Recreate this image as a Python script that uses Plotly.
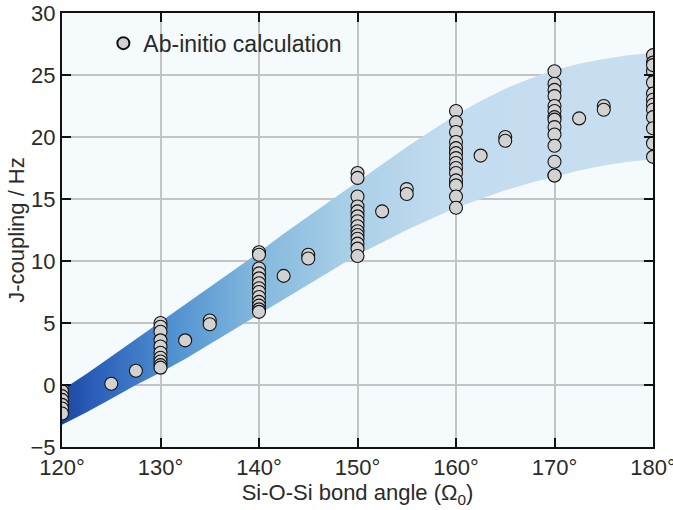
import plotly.graph_objects as go

# Band (range of J-coupling) edges
band_x = [120, 122.5, 125, 127.5, 130, 132.5, 135, 137.5, 140, 142.5, 145, 147.5, 150,
          152.5, 155, 157.5, 160, 162.5, 165, 167.5, 170, 172.5, 175, 177.5, 180]
band_lower = [-3.2, -2.2, -1.1, 0.0, 1.0, 2.1, 3.3, 4.5, 5.7, 6.9, 8.1, 9.3, 10.5,
              11.5, 12.5, 13.4, 14.3, 15.0, 15.7, 16.3, 16.8, 17.3, 17.7, 18.0, 18.2]
band_upper = [-0.4, 0.9, 2.3, 3.7, 5.1, 6.5, 7.9, 9.3, 10.7, 12.2, 13.6, 15.0, 16.4,
              17.8, 19.2, 20.5, 21.8, 22.9, 23.9, 24.7, 25.4, 25.9, 26.3, 26.6, 26.8]

# Ab-initio calculation points
calc_x = ([120] * 6 + [125, 127.5] + [130] * 10 + [132.5, 135, 135]
          + [140] * 13 + [142.5, 145, 145]
          + [150] * 14 + [152.5, 155, 155]
          + [160] * 14 + [162.5, 165, 165]
          + [170] * 14 + [172.5, 175, 175]
          + [180] * 13)
calc_y = ([-0.5, -0.9, -1.2, -1.6, -1.9, -2.3, 0.1, 1.15]
          + [5.0, 4.7, 4.3, 3.6, 3.1, 2.6, 2.2, 1.9, 1.6, 1.4]
          + [3.6, 5.2, 4.9]
          + [10.7, 10.5, 9.4, 9.0, 8.6, 8.2, 7.8, 7.5, 7.1, 6.7, 6.4, 6.1, 5.9]
          + [8.8, 10.5, 10.2]
          + [17.1, 16.7, 15.2, 14.4, 14.0, 13.6, 13.2, 12.8, 12.4, 12.1, 11.8, 11.4, 11.0, 10.4]
          + [14.0, 15.8, 15.4]
          + [22.1, 21.2, 20.4, 19.6, 19.1, 18.7, 18.3, 17.9, 17.5, 17.1, 16.5, 16.1, 15.2, 14.3]
          + [18.5, 20.0, 19.7]
          + [25.3, 24.3, 23.8, 23.3, 22.5, 22.1, 21.6, 21.4, 20.8, 20.2, 19.3, 18.0, 16.9, 16.9]
          + [21.5, 22.5, 22.2]
          + [26.6, 26.0, 25.3, 24.4, 23.5, 23.0, 22.6, 22.2, 21.6, 20.7, 19.5, 18.4, 25.8])

x_ticks = [120, 130, 140, 150, 160, 170, 180]
x_tick_labels = ["120°", "130°", "140°", "150°", "160°", "170°", "180°"]
y_ticks = [-5, 0, 5, 10, 15, 20, 25, 30]

FONT = "Liberation Sans"
TICK = dict(family=FONT, size=22, color="#2a2a2a")
TITLE = dict(family=FONT, size=22, color="#2a2a2a")
LEG = dict(family=FONT, size=23, color="#2a2a2a")

fig = go.Figure()
fig.add_trace(go.Scatter(
    x=band_x + band_x[::-1],
    y=band_upper + band_lower[::-1],
    mode="lines",
    line=dict(width=0),
    fill="toself",
    fillgradient=dict(
        type="horizontal",
        colorscale=[[0.0, "#1b47a0"], [0.05, "#2a5cb8"], [0.18, "#4d8fd0"],
                    [0.32, "#80b6dc"], [0.48, "#a8cfe7"], [0.65, "#c3dcef"],
                    [1.0, "#c9def1"]],
    ),
    hoverinfo="skip",
    showlegend=False,
))
fig.add_trace(go.Scatter(
    x=calc_x, y=calc_y, mode="markers",
    marker=dict(size=13, color="#d2d2d2", line=dict(color="#111111", width=1.1)),
    name="Ab-initio calculation",
))

axis_common = dict(
    showline=True, linecolor="#111111", linewidth=2, mirror="allticks",
    ticks="inside", ticklen=9, tickwidth=2, tickcolor="#111111",
    showgrid=True, gridcolor="#c4c4c4", gridwidth=1.5, zeroline=False,
    automargin=False, tickfont=TICK, ticklabeloverflow="allow",
)
fig.update_xaxes(range=[120, 180], tickvals=x_ticks, ticktext=x_tick_labels,
                 title=dict(text="Si-O-Si bond angle (Ω<sub>0</sub>)", font=TITLE, standoff=2),
                 **axis_common)
fig.update_yaxes(range=[-5, 30], tickvals=y_ticks,
                 title=dict(text="J-coupling / Hz", font=TITLE, standoff=0),
                 **axis_common)
fig.update_layout(
    width=673, height=510,
    margin=dict(l=62, r=20, t=13, b=63),
    plot_bgcolor="#f5fafd", paper_bgcolor="white",
    legend=dict(x=0.07, y=0.98, xanchor="left", yanchor="top",
                bgcolor="rgba(0,0,0,0)", font=LEG, itemsizing="constant"),
)
fig.write_html("out.html", config={"displayModeBar": False},
               post_script="document.body.style.margin='0px';")
